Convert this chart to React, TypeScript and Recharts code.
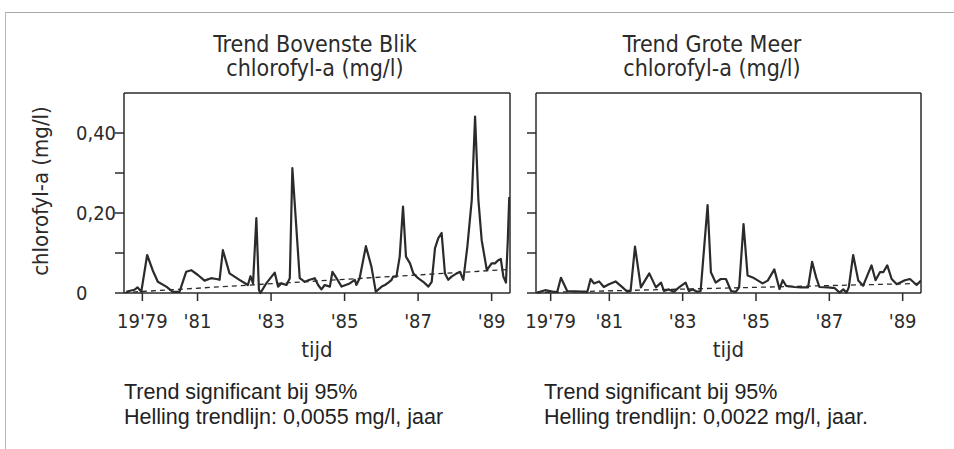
import { LineChart, Line, XAxis, YAxis, ReferenceLine } from 'recharts';

// ---------------------------------------------------------------------------
// Data
// ---------------------------------------------------------------------------

const bovensteYears = [
  1979.06, 1979.28, 1979.37, 1979.47, 1979.63, 1979.78, 1979.92, 1980.15, 1980.33, 1980.51,
  1980.69, 1980.83, 1981.01, 1981.19, 1981.37, 1981.51, 1981.6, 1981.69, 1981.87, 1982.14,
  1982.37, 1982.44, 1982.51, 1982.6, 1982.67, 1982.71, 1982.87, 1983.1, 1983.19, 1983.28,
  1983.42, 1983.51, 1983.58, 1983.78, 1983.92, 1984.05, 1984.19, 1984.28, 1984.37, 1984.46,
  1984.6, 1984.67, 1984.78, 1984.92, 1985.14, 1985.28, 1985.32, 1985.41, 1985.58, 1985.73,
  1985.85, 1986.01, 1986.1, 1986.19, 1986.28, 1986.32, 1986.41, 1986.5, 1986.59, 1986.67,
  1986.78, 1986.87, 1987.0, 1987.14, 1987.28, 1987.37, 1987.46, 1987.55, 1987.64, 1987.73,
  1987.82, 1987.91, 1988.05, 1988.14, 1988.23, 1988.34, 1988.46, 1988.55, 1988.64, 1988.73,
  1988.87, 1989.0, 1989.09, 1989.18, 1989.25, 1989.32, 1989.39, 1989.44, 1989.48,
];
const bovensteValues = [
  0.003, 0.008, 0.014, 0.003, 0.095, 0.057, 0.028, 0.016, 0.003, 0.003,
  0.053, 0.057, 0.045, 0.031, 0.037, 0.035, 0.033, 0.107, 0.049, 0.033,
  0.02, 0.042, 0.024, 0.187, 0.008, 0.0, 0.024, 0.051, 0.016, 0.024,
  0.02, 0.037, 0.312, 0.037, 0.028, 0.033, 0.037, 0.02, 0.009, 0.02,
  0.016, 0.053, 0.037, 0.016, 0.024, 0.033, 0.02, 0.037, 0.117, 0.066,
  0.003, 0.016, 0.02, 0.026, 0.033, 0.041, 0.041, 0.091, 0.216, 0.091,
  0.074, 0.049, 0.037, 0.028, 0.016, 0.028, 0.112, 0.137, 0.15, 0.049,
  0.033, 0.041, 0.049, 0.053, 0.033, 0.116, 0.233, 0.441, 0.233, 0.132,
  0.057, 0.074, 0.074, 0.082, 0.085, 0.041, 0.026, 0.132, 0.24,
];
const bovensteTrendYears = [1979, 1989.5];
const bovensteTrendValues = [0.001, 0.059];

const groteYears = [
  1979.03, 1979.25, 1979.48, 1979.58, 1979.68, 1979.85, 1980.08, 1980.4, 1980.49, 1980.58,
  1980.72, 1980.85, 1980.99, 1981.17, 1981.36, 1981.49, 1981.58, 1981.7, 1981.86, 1982.09,
  1982.27, 1982.41, 1982.49, 1982.62, 1982.76, 1982.9, 1983.08, 1983.17, 1983.27, 1983.4,
  1983.49, 1983.68, 1983.77, 1983.9, 1984.04, 1984.18, 1984.32, 1984.45, 1984.54, 1984.66,
  1984.77, 1984.91, 1985.09, 1985.18, 1985.32, 1985.5, 1985.64, 1985.73, 1985.82, 1986.05,
  1986.23, 1986.42, 1986.53, 1986.64, 1986.73, 1986.96, 1987.15, 1987.28, 1987.38, 1987.47,
  1987.53, 1987.65, 1987.79, 1987.92, 1988.15, 1988.26, 1988.38, 1988.47, 1988.58, 1988.7,
  1988.84, 1989.06, 1989.2, 1989.38, 1989.5,
];
const groteValues = [
  0.001, 0.007, 0.003, 0.003, 0.038, 0.005, 0.004, 0.003, 0.035, 0.024,
  0.029, 0.015, 0.022, 0.029, 0.014, 0.003, 0.005, 0.116, 0.014, 0.049,
  0.014, 0.026, 0.005, 0.009, 0.003, 0.014, 0.026, 0.005, 0.009, 0.003,
  0.005, 0.22, 0.052, 0.026, 0.035, 0.035, 0.005, 0.003, 0.014, 0.172,
  0.044, 0.039, 0.029, 0.024, 0.031, 0.059, 0.01, 0.032, 0.018, 0.015,
  0.014, 0.014, 0.078, 0.039, 0.015, 0.014, 0.012, 0.001, 0.009, 0.001,
  0.014, 0.095, 0.031, 0.018, 0.069, 0.032, 0.052, 0.052, 0.069, 0.035,
  0.022, 0.032, 0.035, 0.02, 0.031,
];
const groteTrendYears = [1979, 1989.5];
const groteTrendValues = [0.001, 0.024];

const yTicks = [0, 0.1, 0.2, 0.3, 0.4];
const yTickLabels: Record<string, string> = { '0': '0', '0.2': '0,20', '0.4': '0,40' };

const bovensteXTicks = [1979.5, 1981, 1983, 1985, 1987, 1989];
const groteXTicks = [1979.4, 1981, 1983, 1985, 1987, 1989];
const xTickLabels = ["19'79", "'81", "'83", "'85", "'87", "'89"];

// ---------------------------------------------------------------------------
// Helpers
// ---------------------------------------------------------------------------

const LETTER = "'DejaVu Sans Condensed', 'Liberation Sans Narrow', Roboto, 'DejaVu Sans', sans-serif";
const PLAIN = "'Liberation Sans', Arial, sans-serif";
const INK = '#2b2b2b';
const X_DOMAIN: [number, number] = [1979, 1989.5];
const Y_DOMAIN: [number, number] = [0, 0.5];

function toPoints(years: number[], values: number[]) {
  return years.map((year, i) => ({ year, value: values[i] }));
}

interface PanelProps {
  left: number;
  width: number;
  axisWidth: number;
  series: { year: number; value: number }[];
  trend: { year: number; value: number }[];
  xTicks: number[];
  showYLabels: boolean;
}

function YTick(props: any) {
  const { x, y, payload, showLabel } = props;
  if (!showLabel) return null;
  const label = yTickLabels[String(payload.value)];
  if (!label) return null;
  return (
    <text
      x={x - 37}
      y={y}
      dy="0.36em"
      textAnchor="start"
      fontFamily={LETTER}
      fontSize={20}
      fill={INK}
    >
      {label}
    </text>
  );
}

function Panel({ left, width, axisWidth, series, trend, xTicks, showYLabels }: PanelProps) {
  return (
    <div style={{ position: 'absolute', left, top: 80 }}>
      <LineChart
        width={width}
        height={290}
        margin={{ top: 13, right: 20, bottom: 0, left: 0 }}
      >
        <XAxis
          type="number"
          dataKey="year"
          domain={X_DOMAIN}
          ticks={xTicks}
          tickFormatter={(v: number) => xTickLabels[xTicks.indexOf(v)] ?? ''}
          allowDataOverflow
          height={77}
          tickSize={8}
          tickMargin={13}
          stroke={INK}
          strokeWidth={1.5}
          tick={{ fontFamily: LETTER, fontSize: 20, fill: INK }}
          label={{
            value: 'tijd',
            position: 'insideBottom',
            offset: 13,
            style: { fontFamily: LETTER, fontSize: 22, fill: INK },
          }}
        />
        <YAxis
          type="number"
          domain={Y_DOMAIN}
          ticks={yTicks}
          width={axisWidth}
          tickSize={9}
          stroke={INK}
          strokeWidth={1.5}
          tick={<YTick showLabel={showYLabels} />}
        />
        {/* frame: top and right edge of the plot box */}
        <ReferenceLine y={Y_DOMAIN[1]} stroke={INK} strokeWidth={1.5} />
        <ReferenceLine x={X_DOMAIN[1]} stroke={INK} strokeWidth={1.5} />
        <Line
          data={trend}
          dataKey="value"
          type="linear"
          stroke={INK}
          strokeWidth={1.3}
          strokeDasharray="5 4"
          dot={false}
          isAnimationActive={false}
        />
        <Line
          data={series}
          dataKey="value"
          type="linear"
          stroke={INK}
          strokeWidth={2.2}
          strokeLinejoin="round"
          dot={false}
          isAnimationActive={false}
        />
      </LineChart>
    </div>
  );
}

// ---------------------------------------------------------------------------
// Component
// ---------------------------------------------------------------------------

export default function App() {
  const titleStyle: React.CSSProperties = {
    position: 'absolute',
    width: 320,
    textAlign: 'center',
    fontFamily: LETTER,
    fontSize: 23,
    lineHeight: '24px',
    color: INK,
  };
  const noteStyle: React.CSSProperties = {
    position: 'absolute',
    fontFamily: PLAIN,
    fontSize: 21.5,
    lineHeight: '25px',
    color: '#222',
    whiteSpace: 'nowrap',
  };

  return (
    <div
      style={{
        position: 'absolute',
        left: 0,
        top: 0,
        width: 954,
        height: 449,
        background: '#fff',
        overflow: 'hidden',
      }}
    >
      {/* page frame */}
      <div
        style={{
          position: 'absolute',
          left: 5,
          top: 12,
          width: 960,
          height: 460,
          borderTop: '1.5px solid #a8a8a8',
          borderLeft: '1.5px solid #b8b8b8',
        }}
      />

      <div style={{ ...titleStyle, left: 155, top: 32 }}>
        Trend Bovenste Blik
        <br />
        chlorofyl-a (mg/l)
      </div>
      <div style={{ ...titleStyle, left: 552, top: 32 }}>
        Trend Grote Meer
        <br />
        chlorofyl-a (mg/l)
      </div>

      <div
        style={{
          position: 'absolute',
          left: 40,
          top: 191,
          transform: 'translate(-50%, -50%) rotate(-90deg)',
          fontFamily: LETTER,
          fontSize: 22,
          color: INK,
          whiteSpace: 'nowrap',
        }}
      >
        chlorofyl-a (mg/l)
      </div>

      <Panel
        left={20}
        width={510}
        axisWidth={104}
        series={toPoints(bovensteYears, bovensteValues)}
        trend={toPoints(bovensteTrendYears, bovensteTrendValues)}
        xTicks={bovensteXTicks}
        showYLabels
      />
      <Panel
        left={500}
        width={441}
        axisWidth={36}
        series={toPoints(groteYears, groteValues)}
        trend={toPoints(groteTrendYears, groteTrendValues)}
        xTicks={groteXTicks}
        showYLabels={false}
      />

      <div style={{ ...noteStyle, left: 124, top: 380 }}>
        Trend significant bij 95%
        <br />
        Helling trendlijn: 0,0055 mg/l, jaar
      </div>
      <div style={{ ...noteStyle, left: 544, top: 380 }}>
        Trend significant bij 95%
        <br />
        Helling trendlijn: 0,0022 mg/l, jaar.
      </div>
    </div>
  );
}
